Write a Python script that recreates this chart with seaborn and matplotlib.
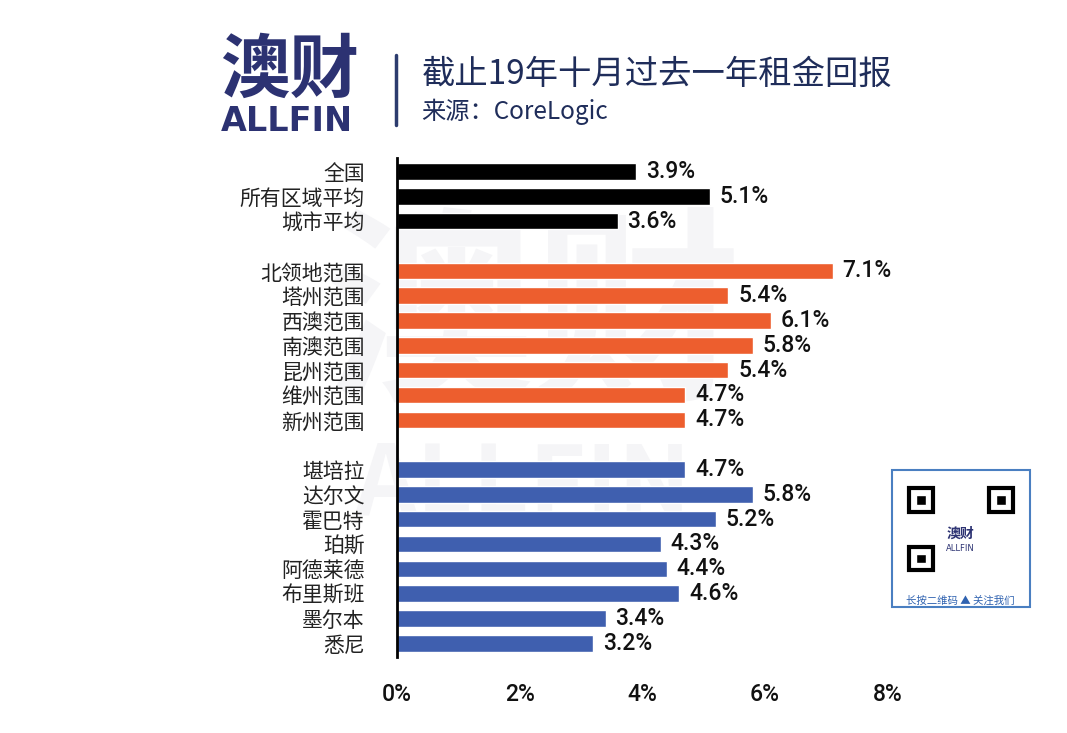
import matplotlib
matplotlib.use("Agg")
import matplotlib.pyplot as plt
import seaborn as sns
import pandas as pd
from matplotlib.patches import Rectangle
from matplotlib.lines import Line2D

regions = ['全国', '所有区域平均', '城市平均',
           '北领地范围', '塔州范围', '西澳范围', '南澳范围', '昆州范围', '维州范围', '新州范围',
           '堪培拉', '达尔文', '霍巴特', '珀斯', '阿德莱德', '布里斯班', '墨尔本', '悉尼']
values = [3.9, 5.1, 3.6,
          7.1, 5.4, 6.1, 5.8, 5.4, 4.7, 4.7,
          4.7, 5.8, 5.2, 4.3, 4.4, 4.6, 3.4, 3.2]
groups = ['全国'] * 3 + ['州'] * 7 + ['城市'] * 8
group_colors = {'全国': '#000000', '州': '#ED5E2E', '城市': '#3F5FAF'}
xticks = [0, 2, 4, 6, 8]
xtick_labels = ['0%', '2%', '4%', '6%', '8%']
title = '截止19年十月过去一年租金回报'
subtitle = '来源：CoreLogic'

sns.set_theme(style='white')
plt.rcParams['font.family'] = ['Noto Sans CJK SC', 'DejaVu Sans']
num_font = ['Roboto', 'DejaVu Sans']

df = pd.DataFrame({'region': regions, 'value': values, 'group': groups})
order = regions[:3] + [' '] + regions[3:10] + ['  '] + regions[10:]

fig = plt.figure(figsize=(10.67, 7.33), dpi=100)
fig.patch.set_facecolor('white')
ax = fig.add_axes([0.372, 0.1037, 0.46, 0.681])
ax.set_facecolor('none')

sns.barplot(data=df, x='value', y='region', hue='group', order=order,
            palette=group_colors, dodge=False, width=0.66, legend=False,
            saturation=1, ax=ax)

for r, v in zip(regions, values):
    ax.text(v + 0.16, order.index(r), f'{v:.1f}%', va='center', ha='left',
            fontsize=16.5, fontweight='medium', color='#111111', family=num_font)

ax.set_xlim(0, 8)
ax.set_ylim(len(order) - 0.45, -0.55)
ax.set_xticks(xticks)
ax.set_xticklabels(xtick_labels, fontsize=16.5, fontweight='medium', color='#111111',
                   family=num_font)
ax.set_xlabel('')
ax.set_ylabel('')
ax.tick_params(axis='x', length=0, pad=19)
ax.tick_params(axis='y', length=0, pad=23, labelsize=15, labelcolor='#222222')
for s in ['top', 'right', 'bottom']:
    ax.spines[s].set_visible(False)
ax.spines['left'].set_color('black')
ax.spines['left'].set_linewidth(2)

# faint watermark
fig.text(0.50, 0.56, '澳财', fontsize=150, fontweight='bold', color='#f5f5f7',
         ha='center', va='center', zorder=-5)
fig.text(0.49, 0.335, 'ALLFIN', fontsize=70, fontweight='bold', color='#f5f5f7',
         ha='center', va='center', zorder=-5)

# logo & header
navy = '#2C3272'
fig.text(0.206, 0.902, '澳财', fontsize=50, fontweight='black', color=navy,
         ha='left', va='center')
fig.text(0.207, 0.834, 'ALLFIN', fontsize=24, fontweight='bold', color=navy,
         ha='left', va='center', family='DejaVu Sans')
fig.lines.append(Line2D([0.371, 0.371], [0.829, 0.925], transform=fig.transFigure,
                        color='#2C3C6E', linewidth=2.5))
fig.text(0.395, 0.899, title, fontsize=24, color='#1F2D5A', ha='left', va='center')
fig.text(0.395, 0.847, subtitle, fontsize=17.5, color='#1F2D5A', ha='left', va='center')

# QR placeholder
qx0, qy0, qw, qh = 0.836, 0.172, 0.129, 0.187
fig.patches.append(Rectangle((qx0, qy0), qw, qh, transform=fig.transFigure,
                             facecolor='white', edgecolor='#4a7fc1', linewidth=1.5))
for fx, fy in [(0.852, 0.302), (0.927, 0.302), (0.852, 0.222)]:
    fig.patches.append(Rectangle((fx, fy), 0.022, 0.032, transform=fig.transFigure,
                                 facecolor='white', edgecolor='black', linewidth=3))
    fig.patches.append(Rectangle((fx + 0.0065, fy + 0.0095), 0.009, 0.013,
                                 transform=fig.transFigure, facecolor='black'))
fig.text(0.900, 0.272, '澳财', fontsize=10, fontweight='bold', color=navy,
         ha='center', va='center')
fig.text(0.900, 0.252, 'ALLFIN', fontsize=6, color=navy, ha='center', va='center',
         family='DejaVu Sans')
fig.text(0.900, 0.180, '长按二维码 ▲ 关注我们', fontsize=7.5, color='#2f62b0',
         ha='center', va='center')

fig.savefig('out.png', dpi=100, facecolor='white')
